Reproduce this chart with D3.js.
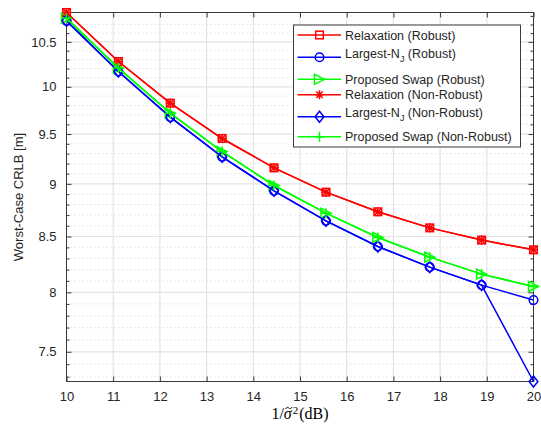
<!DOCTYPE html>
<html>
<head>
<meta charset="utf-8">
<script src="https://cdn.jsdelivr.net/npm/d3@7"></script>
<style>
  html, body { margin: 0; padding: 0; background: #fff; }
  svg { display: block; }
</style>
</head>
<body>
<svg id="chart" width="541" height="424"></svg>
<script>
// ---------------- data ----------------
const snrDb = [10, 11.111, 12.222, 13.333, 14.444, 15.556, 16.667, 17.778, 18.889, 20];
const relaxRobust     = [10.84, 10.278, 9.824, 9.454, 9.158, 8.919, 8.731, 8.580, 8.467, 8.378];
const largestRobust   = [10.742, 10.167, 9.676, 9.268, 8.932, 8.646, 8.408, 8.222, 8.063, 7.933];
const swapRobust      = [10.774, 10.205, 9.718, 9.321, 8.984, 8.718, 8.491, 8.312, 8.160, 8.051];
const relaxNonRobust  = [10.84, 10.278, 9.824, 9.454, 9.158, 8.919, 8.731, 8.580, 8.467, 8.378];
const largestNonRobust= [10.742, 10.167, 9.676, 9.268, 8.932, 8.646, 8.408, 8.222, 8.063, 7.262];
const swapNonRobust   = [10.774, 10.205, 9.718, 9.321, 8.984, 8.718, 8.491, 8.312, 8.160, 8.051];

const xTicks = [10, 11, 12, 13, 14, 15, 16, 17, 18, 19, 20];
const yTicks = [7.5, 8, 8.5, 9, 9.5, 10, 10.5];
const yMinorTicks = [7.3, 7.4, 7.6, 7.7, 7.8, 7.9, 8.1, 8.2, 8.3, 8.4, 8.6, 8.7, 8.8, 8.9,
                     9.1, 9.2, 9.3, 9.4, 9.6, 9.7, 9.8, 9.9, 10.1, 10.2, 10.3, 10.4, 10.6, 10.7, 10.8];

const seriesNames = ["Relaxation (Robust)", "Largest-N|J| (Robust)", "Proposed Swap (Robust)",
                     "Relaxation (Non-Robust)", "Largest-N|J| (Non-Robust)", "Proposed Swap (Non-Robust)"];
const seriesValues = [relaxRobust, largestRobust, swapRobust, relaxNonRobust, largestNonRobust, swapNonRobust];
const seriesColors = ["#ff0000", "#0000ff", "#00ff00", "#ff0000", "#0000ff", "#00ff00"];
const seriesMarkers = ["square", "circle", "triangle", "asterisk", "diamond", "plus"];

// ---------------- layout ----------------
const M = { left: 66.5, right: 533.5, top: 12.5, bottom: 381.5 };
const svg = d3.select("#chart");
const axisColor = "#3a3a3a";
const textColor = "#262626";
const sansFont = "'Liberation Sans', Arial, Helvetica, sans-serif";
const serifFont = "'Liberation Serif', 'DejaVu Serif', serif";

const allVals = seriesValues.flat();
const x = d3.scaleLinear().domain(d3.extent(snrDb)).range([M.left, M.right]);
const y = d3.scaleLog().domain(d3.extent(allVals)).range([M.bottom, M.top]);

// grid
const grid = svg.append("g");
grid.selectAll(".ymin").data(yMinorTicks).join("line")
  .attr("x1", M.left).attr("x2", M.right)
  .attr("y1", d => y(d)).attr("y2", d => y(d))
  .attr("stroke", "#c8c8c8").attr("stroke-width", 0.8).attr("stroke-dasharray", "1,3");
grid.selectAll(".ymaj").data(yTicks).join("line")
  .attr("x1", M.left).attr("x2", M.right)
  .attr("y1", d => y(d)).attr("y2", d => y(d))
  .attr("stroke", "#e3e3e3").attr("stroke-width", 1.2);
grid.selectAll(".xmaj").data(xTicks.slice(1, -1)).join("line")
  .attr("x1", d => x(d)).attr("x2", d => x(d))
  .attr("y1", M.top).attr("y2", M.bottom)
  .attr("stroke", "#e3e3e3").attr("stroke-width", 1.2);

// axes with D3 axis generators (inward ticks)
const fmtY = d => d3.format("")(d);
const axB = svg.append("g").attr("transform", `translate(0,${M.bottom})`)
  .call(d3.axisBottom(x).tickValues(xTicks).tickSizeInner(-5).tickSizeOuter(0).tickPadding(10));
const axT = svg.append("g").attr("transform", `translate(0,${M.top})`)
  .call(d3.axisTop(x).tickValues(xTicks).tickSizeInner(-5).tickSizeOuter(0).tickFormat(""));
const axL = svg.append("g").attr("transform", `translate(${M.left},0)`)
  .call(d3.axisLeft(y).tickValues(yTicks).tickFormat(fmtY).tickSizeInner(-5).tickSizeOuter(0).tickPadding(10));
const axR = svg.append("g").attr("transform", `translate(${M.right},0)`)
  .call(d3.axisRight(y).tickValues(yTicks).tickSizeInner(-5).tickSizeOuter(0).tickFormat(""));
const axLm = svg.append("g").attr("transform", `translate(${M.left},0)`)
  .call(d3.axisLeft(y).tickValues(yMinorTicks).tickSizeInner(-3).tickSizeOuter(0).tickFormat(""));
const axRm = svg.append("g").attr("transform", `translate(${M.right},0)`)
  .call(d3.axisRight(y).tickValues(yMinorTicks).tickSizeInner(-3).tickSizeOuter(0).tickFormat(""));

[axB, axT, axL, axR, axLm, axRm].forEach(a => {
  a.select(".domain").remove();
  a.selectAll("line").attr("stroke", axisColor);
  a.selectAll("text").attr("fill", textColor).style("font-family", sansFont).style("font-size", "13px");
});

// box
svg.append("rect").attr("x", M.left).attr("y", M.top)
  .attr("width", M.right - M.left).attr("height", M.bottom - M.top)
  .attr("fill", "none").attr("stroke", axisColor).attr("stroke-width", 1);

// marker drawing
function drawMarker(g, type, cx, cy, color) {
  const sw = 1.5;
  if (type === "square") {
    g.append("rect").attr("x", cx - 3.8).attr("y", cy - 3.8).attr("width", 7.6).attr("height", 7.6)
      .attr("fill", "none").attr("stroke", color).attr("stroke-width", sw);
  } else if (type === "circle") {
    g.append("circle").attr("cx", cx).attr("cy", cy).attr("r", 4.3)
      .attr("fill", "none").attr("stroke", color).attr("stroke-width", sw);
  } else if (type === "triangle") {
    const r = 5;
    g.append("path").attr("d", `M${cx + r},${cy} L${cx - r},${cy - r} L${cx - r},${cy + r} Z`)
      .attr("fill", "none").attr("stroke", color).attr("stroke-width", sw);
  } else if (type === "diamond") {
    const r = 5.5;
    g.append("path").attr("d", `M${cx},${cy - r} L${cx + r * 0.8},${cy} L${cx},${cy + r} L${cx - r * 0.8},${cy} Z`)
      .attr("fill", "none").attr("stroke", color).attr("stroke-width", sw);
  } else if (type === "plus") {
    const r = 5;
    g.append("path").attr("d", `M${cx - r},${cy} H${cx + r} M${cx},${cy - r} V${cy + r}`)
      .attr("fill", "none").attr("stroke", color).attr("stroke-width", sw);
  } else if (type === "asterisk") {
    const r = 4.5, d = r * 0.72;
    g.append("path").attr("d",
      `M${cx - r},${cy} H${cx + r} M${cx},${cy - r} V${cy + r} M${cx - d},${cy - d} L${cx + d},${cy + d} M${cx - d},${cy + d} L${cx + d},${cy - d}`)
      .attr("fill", "none").attr("stroke", color).attr("stroke-width", sw);
  }
}

// series
const line = d3.line().x(d => x(d[0])).y(d => y(d[1]));
const plot = svg.append("g");
seriesValues.forEach((vals, i) => {
  const pts = snrDb.map((v, j) => [v, vals[j]]);
  const g = plot.append("g");
  g.append("path").attr("d", line(pts)).attr("fill", "none")
    .attr("stroke", seriesColors[i]).attr("stroke-width", 1.5);
  pts.forEach(p => drawMarker(g, seriesMarkers[i], x(p[0]), y(p[1]), seriesColors[i]));
});

// y axis label
svg.append("text")
  .attr("transform", `translate(18,${(M.top + M.bottom) / 2}) rotate(-90)`)
  .attr("text-anchor", "middle").attr("dominant-baseline", "central")
  .attr("fill", textColor).style("font-family", sansFont).style("font-size", "13px")
  .text("Worst-Case CRLB [m]");

// x axis label: 1/σ̃²(dB), assembled from measured pieces; tilde accent drawn as a path
const xlBase = 419;
const xlg = svg.append("g");
const pieces = [
  { t: "1/", size: 16, italic: false, dy: 0 },
  { t: "σ", size: 16, italic: true, dy: 0, tilde: true },
  { t: "2", size: 11, italic: false, dy: -5.5, gapBefore: 1 },
  { t: "(dB)", size: 16, italic: false, dy: 0, gapBefore: 1 }
];
let cursor = 0;
pieces.forEach(p => {
  cursor += p.gapBefore || 0;
  const el = xlg.append("text").attr("x", cursor).attr("y", xlBase + p.dy)
    .attr("fill", "#000").style("font-family", serifFont).style("font-size", p.size + "px")
    .style("font-style", p.italic ? "italic" : "normal").text(p.t);
  const w = el.node().getComputedTextLength();
  if (p.tilde) {
    const cx = cursor + w / 2 + 1, cy = xlBase - 11;
    xlg.append("path")
      .attr("d", `M${cx - 3.2},${cy + 1} C${cx - 2.2},${cy - 1.2} ${cx - 1},${cy - 0.8} ${cx},${cy} S${cx + 2.2},${cy + 1.2} ${cx + 3.2},${cy - 1}`)
      .attr("fill", "none").attr("stroke", "#000").attr("stroke-width", 0.9);
  }
  cursor += w;
});
xlg.attr("transform", `translate(${(M.left + M.right) / 2 - cursor / 2},0)`);

// legend
const L = { x: 293.5, y: 25, w: 227, h: 122 };
const rowLineY = [10, 32.3, 54.3, 69.7, 91.7, 111.7];
const leg = svg.append("g");
leg.append("rect").attr("x", L.x).attr("y", L.y).attr("width", L.w).attr("height", L.h)
  .attr("fill", "#fff").attr("stroke", axisColor).attr("stroke-width", 1);
seriesNames.forEach((name, i) => {
  const ly = L.y + rowLineY[i];
  const hasSub = name.includes("|J|");
  leg.append("line").attr("x1", L.x + 4).attr("x2", L.x + 47.5)
    .attr("y1", ly).attr("y2", ly)
    .attr("stroke", seriesColors[i]).attr("stroke-width", 1.5);
  drawMarker(leg, seriesMarkers[i], L.x + 26, ly, seriesColors[i]);
  const t = leg.append("text").attr("x", L.x + 51.5).attr("y", ly + (hasSub ? 0.5 : 4.5))
    .attr("fill", textColor).style("font-family", sansFont).style("font-size", "12.5px");
  if (hasSub) {
    const parts = name.split("|J|");
    t.append("tspan").text(parts[0]);
    t.append("tspan").attr("dy", 4).style("font-size", "9px").text("J");
    t.append("tspan").attr("dy", -4).text(parts[1]);
  } else {
    t.text(name);
  }
});
</script>
</body>
</html>
